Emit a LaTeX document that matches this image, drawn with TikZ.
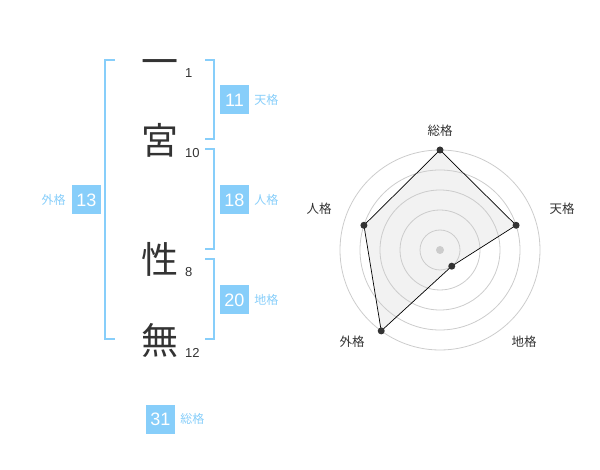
\documentclass[tikz,border=0pt]{standalone}
\usepackage{fontspec}
\setmainfont{Liberation Sans}
\newfontfamily\jpfont{Noto Sans CJK JP}
\usepackage{xcolor}
\usepackage{tikz}
\usetikzlibrary{positioning}

\definecolor{kakublue}{HTML}{87CEFA}
\definecolor{inkgray}{HTML}{333333}
\definecolor{ringgray}{HTML}{CCCCCC}
\definecolor{areagray}{HTML}{F2F2F2}

\tikzset{
  kanji/.style={text=inkgray, font=\jpfont\fontsize{37}{37}\selectfont, inner sep=0pt},
  strokes/.style={text=inkgray, font=\fontsize{13}{13}\selectfont, anchor=west, inner sep=0pt},
  kakubox/.style={fill=kakublue, text=white, minimum width=29pt, minimum height=29pt, inner sep=0pt, font=\fontsize{18}{18}\selectfont},
  kakulabel/.style={text=kakublue, font=\jpfont\fontsize{12}{12}\selectfont, inner sep=0pt},
  bracket/.style={draw=kakublue, line width=2pt},
  ring/.style={draw=ringgray, line width=0.8pt},
  axislabel/.style={text=inkgray, font=\jpfont\fontsize{12.5}{12.5}\selectfont, inner sep=0pt},
  dot/.style={circle, fill=inkgray, inner sep=0pt, minimum size=7pt},
}

\begin{document}
\begin{tikzpicture}[x=1pt, y=-1pt]
\useasboundingbox (0,0) rectangle (600,470);

% name
\node (c1) [kanji] at (160,68) {一};
\node (c2) [kanji] at (160,140) {宮};
\node (c3) [kanji] at (160,259) {性};
\node (c4) [kanji] at (160,340) {無};

\node (n1) [strokes] at (185,73) {1};
\node (n2) [strokes] at (185,153) {10};
\node (n3) [strokes] at (185,272) {8};
\node (n4) [strokes] at (185,353) {12};

% brackets
\draw[bracket] (115,60) -- (105,60) -- (105,339) -- (115,339);
\draw[bracket] (205,60) -- (214,60) -- (214,139) -- (205,139);
\draw[bracket] (205,149) -- (214,149) -- (214,249) -- (205,249);
\draw[bracket] (205,259) -- (214,259) -- (214,339) -- (205,339);

% kaku values
\node (ten) [kakubox] at (234.5,100) {11};
\node (jin) [kakubox] at (234.5,200) {18};
\node (chi) [kakubox] at (234.5,300) {20};
\node (gai) [kakubox] at (86.5,200) {13};
\node (sou) [kakubox] at (160.5,419) {31};

\node (tenlabel) [kakulabel, right=5pt of ten] {天格};
\node (jinlabel) [kakulabel, right=5pt of jin] {人格};
\node (chilabel) [kakulabel, right=5pt of chi] {地格};
\node (gailabel) [kakulabel, left=6pt of gai] {外格};
\node (soulabel) [kakulabel, right=5pt of sou] {総格};

% radar
\begin{scope}[shift={(440,250)}]
\coordinate (rc) at (0,0);
\coordinate (psou) at (-90:100);
\coordinate (pten) at (-18:80);
\coordinate (pchi) at (54:20);
\coordinate (pgai) at (126:100);
\coordinate (pjin) at (198:80);

\fill[areagray] (psou) -- (pten) -- (pchi) -- (pgai) -- (pjin) -- cycle;
\foreach \r in {20,40,...,100}
  \draw[ring] (rc) circle [radius=\r pt];
\draw[black, line width=0.7pt] (psou) -- (pten) -- (pchi) -- (pgai) -- (pjin) -- cycle;

\foreach \p in {psou,pten,pchi,pgai,pjin}
  \node (d\p) [dot] at (\p) {};
\node (dc) [dot, fill=ringgray, minimum size=8pt] at (rc) {};
\end{scope}

\node (asou) [axislabel] at (440,131) {総格};
\node (aten) [axislabel] at (562,209) {天格};
\node (achi) [axislabel] at (524,342) {地格};
\node (agai) [axislabel] at (352,342) {外格};
\node (ajin) [axislabel] at (319,209) {人格};

\end{tikzpicture}
\end{document}
